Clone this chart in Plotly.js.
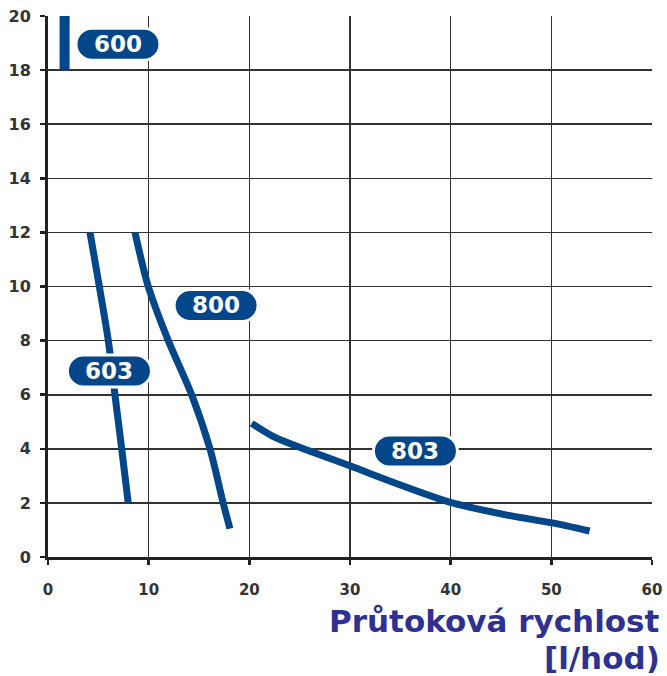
<!DOCTYPE html>
<html>
<head>
<meta charset="utf-8">
<script src="https://cdn.plot.ly/plotly-3.0.1.min.js"></script>
<style>html,body{margin:0;padding:0;background:#fff;}#chart{width:667px;height:676px;}</style>
</head>
<body>
<div id="chart"></div>
<script>
// Data
const x600 = [1.65, 1.65];
const y600 = [18, 20];
const x603 = [4.17, 5.1, 5.99, 6.65, 7.32, 7.97];
const y603 = [12, 10, 8, 6, 4, 2];
const x800 = [8.64, 9.96, 11.95, 14.27, 16.09, 17.4, 18.07];
const y800 = [12, 10, 8, 6, 4, 2, 1.05];
const x803 = [20.23, 22.4, 24.4, 30, 34.6, 39.9, 45.6, 50.1, 53.8];
const y803 = [4.94, 4.45, 4.14, 3.37, 2.72, 2.03, 1.55, 1.26, 0.96];

const labelNames = ['600', '603', '800', '803'];
const labelX = [6.95, 6.1, 16.7, 36.5];
const labelY = [18.96, 6.88, 9.3, 3.92];

const xTicks = [0, 10, 20, 30, 40, 50, 60];
const yTicks = [0, 2, 4, 6, 8, 10, 12, 14, 16, 18, 20];
const xTitleLines = ['Průtoková rychlost', '[l/hod)'];

const blue = '#03478a';

const lineStyle = (w) => ({color: blue, width: w, shape: 'spline', smoothing: 0.8});
const traces = [
  {x: x600, y: y600, mode: 'lines', line: {color: blue, width: 10}, hoverinfo: 'skip'},
  {x: x603, y: y603, mode: 'lines', line: lineStyle(7), hoverinfo: 'skip'},
  {x: x800, y: y800, mode: 'lines', line: lineStyle(7), hoverinfo: 'skip'},
  {x: x803, y: y803, mode: 'lines', line: lineStyle(7), hoverinfo: 'skip'}
];

// pill shape path in pixels, centred on anchor
const hw = 26, r = 16, k = 0.5523 * r;
const pill = `M ${-hw},${-r} L ${hw},${-r} C ${hw + k},${-r} ${hw + r},${-k} ${hw + r},0 ` +
  `C ${hw + r},${k} ${hw + k},${r} ${hw},${r} L ${-hw},${r} ` +
  `C ${-hw - k},${r} ${-hw - r},${k} ${-hw - r},0 C ${-hw - r},${-k} ${-hw - k},${-r} ${-hw},${-r} Z`;

const shapes = labelNames.map((n, i) => ({
  type: 'path', xref: 'x', yref: 'y', xsizemode: 'pixel', ysizemode: 'pixel',
  xanchor: labelX[i], yanchor: labelY[i], path: pill,
  fillcolor: blue, line: {color: '#ffffff', width: 3}, layer: 'above'
}));

const annotations = labelNames.map((n, i) => ({
  x: labelX[i], y: labelY[i], xref: 'x', yref: 'y', text: n, showarrow: false,
  font: {family: 'DejaVu Sans', size: 23, color: '#ffffff', weight: 'bold'},
  xanchor: 'center', yanchor: 'middle'
}));

const plotW = 667 - 48 - 15, plotH = 676 - 16 - 119;
const titleCentersPx = [621, 658];
xTitleLines.forEach((t, i) => {
  annotations.push({
    x: (662 - 48) / plotW, y: -(titleCentersPx[i] - 557) / plotH,
    xref: 'paper', yref: 'paper', text: '<b>' + t + '</b>',
    showarrow: false, xanchor: 'right', yanchor: 'middle', align: 'right',
    font: {family: 'DejaVu Sans', size: 31, color: '#2e3192'}
  });
});

const layout = {
  width: 667, height: 676,
  margin: {l: 48, r: 15, t: 16, b: 119},
  paper_bgcolor: '#ffffff', plot_bgcolor: '#ffffff',
  showlegend: false,
  xaxis: {
    range: [0, 60], tickvals: xTicks, ticktext: xTicks.map(String),
    showgrid: true, gridcolor: '#333333', gridwidth: 1.6,
    showline: true, linecolor: '#222222', linewidth: 3,
    ticks: 'outside', ticklen: 5, tickwidth: 2.5, tickcolor: '#222222',
    ticklabelstandoff: 12,
    tickfont: {family: 'DejaVu Sans', size: 15, color: '#333333', weight: 'bold'},
    zeroline: false, fixedrange: true
  },
  yaxis: {
    range: [0, 20], tickvals: yTicks, ticktext: yTicks.map(String),
    showgrid: true, gridcolor: '#333333', gridwidth: 1.6,
    showline: true, linecolor: '#222222', linewidth: 3,
    ticks: 'outside', ticklen: 5, tickwidth: 2.5, tickcolor: '#222222',
    ticklabelstandoff: 6,
    tickfont: {family: 'DejaVu Sans', size: 16, color: '#333333', weight: 'bold'},
    zeroline: false, fixedrange: true
  },
  shapes: shapes,
  annotations: annotations
};

Plotly.newPlot('chart', traces, layout, {staticPlot: true, displayModeBar: false});
</script>
</body>
</html>
